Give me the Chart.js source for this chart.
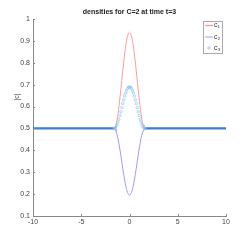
<!DOCTYPE html>
<html>
<head>
<meta charset="utf-8">
<script src="https://cdn.jsdelivr.net/npm/chart.js@4/dist/chart.umd.min.js"></script>
<style>
  body { margin: 0; background: #fff; }
  canvas { display: block; }
</style>
</head>
<body>
<canvas id="chart" width="249" height="243"></canvas>
<script>
// x positions of the samples (flat ends plus the bump around 0)
const xs = [-10, -1.6, -1.5, -1.4, -1.3, -1.2, -1.1, -1.0, -0.9, -0.8, -0.7, -0.6, -0.5, -0.4, -0.3, -0.2, -0.1,
  0, 0.1, 0.2, 0.3, 0.4, 0.5, 0.6, 0.7, 0.8, 0.9, 1.0, 1.1, 1.2, 1.3, 1.4, 1.5, 1.6, 10];

const c1 = [0.5, 0.5, 0.504, 0.517, 0.537, 0.564, 0.598, 0.636, 0.677, 0.72, 0.763, 0.804, 0.842, 0.876, 0.903, 0.923, 0.936,
  0.94, 0.936, 0.923, 0.903, 0.876, 0.842, 0.804, 0.763, 0.72, 0.677, 0.636, 0.598, 0.564, 0.537, 0.517, 0.504, 0.5, 0.5];

const c2 = [0.5, 0.5, 0.497, 0.488, 0.474, 0.455, 0.432, 0.406, 0.377, 0.348, 0.318, 0.289, 0.263, 0.240, 0.221, 0.207, 0.198,
  0.195, 0.198, 0.207, 0.221, 0.240, 0.263, 0.289, 0.318, 0.348, 0.377, 0.406, 0.432, 0.455, 0.474, 0.488, 0.497, 0.5, 0.5];

const c3 = [0.5, 0.5, 0.502, 0.507, 0.516, 0.528, 0.542, 0.559, 0.576, 0.595, 0.614, 0.631, 0.648, 0.662, 0.674, 0.683, 0.688,
  0.69, 0.688, 0.683, 0.674, 0.662, 0.648, 0.631, 0.614, 0.595, 0.576, 0.559, 0.542, 0.528, 0.516, 0.507, 0.502, 0.5, 0.5];

const labels = ['c\u2081', 'c\u2082', 'c\u2083'];
const xTicks = [-10, -5, 0, 5, 10];
const yTicks = [0.1, 0.2, 0.3, 0.4, 0.5, 0.6, 0.7, 0.8, 0.9, 1];

const titleText = 'densities for C=2 at time t=3';
const yLabel = '|c|';

const FONT = '"Liberation Sans", Arial, sans-serif';
const colors = ['#ff9c9c', '#9c9cff', '#86c2f0'];
const flatBlue = '#3a7fd0';

function pts(ys) {
  return xs.map((x, i) => ({ x: x, y: ys[i] }));
}

const decorations = {
  id: 'decorations',
  afterDraw(chart) {
    const { ctx, chartArea, scales } = chart;
    ctx.save();
    // inward tick marks
    ctx.strokeStyle = '#888';
    ctx.lineWidth = 1;
    ctx.beginPath();
    xTicks.forEach(v => {
      const px = Math.round(scales.x.getPixelForValue(v)) + 0.5;
      ctx.moveTo(px, chartArea.bottom);
      ctx.lineTo(px, chartArea.bottom - 2);
    });
    yTicks.forEach(v => {
      const py = Math.round(scales.y.getPixelForValue(v)) + 0.5;
      ctx.moveTo(chartArea.left, py);
      ctx.lineTo(chartArea.left + 2, py);
    });
    ctx.stroke();

    // title
    ctx.fillStyle = '#222';
    ctx.font = 'bold 7px ' + FONT;
    ctx.textAlign = 'center';
    ctx.textBaseline = 'middle';
    ctx.fillText(titleText, (chartArea.left + chartArea.right) / 2, 12);

    // y label
    ctx.save();
    ctx.translate(17, 97);
    ctx.rotate(-Math.PI / 2);
    ctx.fillStyle = '#444';
    ctx.font = '7px ' + FONT;
    ctx.fillText(yLabel, 0, 0);
    ctx.restore();

    // legend box
    const bx = 203.5, by = 21.5, bw = 19, bh = 32;
    ctx.fillStyle = '#fff';
    ctx.fillRect(bx, by, bw, bh);
    ctx.strokeStyle = '#aaa';
    ctx.strokeRect(bx, by, bw, bh);
    const rows = [25.5, 37, 48];
    ctx.font = '7px ' + FONT;
    ctx.textAlign = 'left';
    rows.forEach((ry, i) => {
      if (i < 2) {
        ctx.strokeStyle = colors[i];
        ctx.lineWidth = i === 0 ? 1.5 : 1;
        ctx.beginPath();
        ctx.moveTo(205, ry);
        ctx.lineTo(213, ry);
        ctx.stroke();
      } else {
        ctx.strokeStyle = colors[2];
        ctx.lineWidth = 0.8;
        ctx.beginPath();
        ctx.arc(209, ry, 1.2, 0, Math.PI * 2);
        ctx.stroke();
      }
      ctx.fillStyle = '#333';
      ctx.fillText(labels[i], 214, ry);
    });
    ctx.restore();
  }
};

new Chart(document.getElementById('chart'), {
  type: 'scatter',
  data: {
    datasets: [
      {
        label: labels[0], data: pts(c1), showLine: true, order: 2,
        borderColor: colors[0], borderWidth: 1, pointRadius: 0
      },
      {
        label: labels[1], data: pts(c2), showLine: true, order: 1,
        borderColor: colors[1], borderWidth: 1, pointRadius: 0
      },
      {
        label: labels[2], data: pts(c3), showLine: true, order: 0,
        borderColor: flatBlue, borderWidth: 2.2,
        segment: {
          borderColor: c => (Math.abs(c.p0.parsed.x) >= 1.6 && Math.abs(c.p1.parsed.x) >= 1.6) ? flatBlue : 'rgba(0,0,0,0)'
        },
        pointRadius: c => (c.raw && Math.abs(c.raw.x) >= 10) ? 0 : 1.2,
        pointBorderColor: colors[2], pointBackgroundColor: 'rgba(0,0,0,0)', pointBorderWidth: 0.7
      }
    ]
  },
  options: {
    responsive: false,
    animation: false,
    layout: { padding: { left: 0, top: 19, right: 23, bottom: 0 } },
    plugins: { legend: { display: false }, tooltip: { enabled: false } },
    scales: {
      x: {
        type: 'linear', min: -10, max: 10,
        afterBuildTicks: s => { s.ticks = xTicks.map(v => ({ value: v })); },
        afterFit: s => { s.height = 27; },
        grid: { display: false, drawTicks: false },
        border: { color: '#888', width: 1 },
        ticks: { color: '#444', font: { size: 7, family: FONT }, padding: 2, maxRotation: 0 }
      },
      y: {
        type: 'linear', min: 0.1, max: 1,
        afterBuildTicks: s => { s.ticks = yTicks.map(v => ({ value: v })); },
        afterFit: s => { s.width = 33; },
        grid: { display: false, drawTicks: false },
        border: { color: '#888', width: 1 },
        ticks: { color: '#444', font: { size: 7, family: FONT }, padding: 3, callback: v => String(v) }
      }
    }
  },
  plugins: [decorations]
});
</script>
</body>
</html>
